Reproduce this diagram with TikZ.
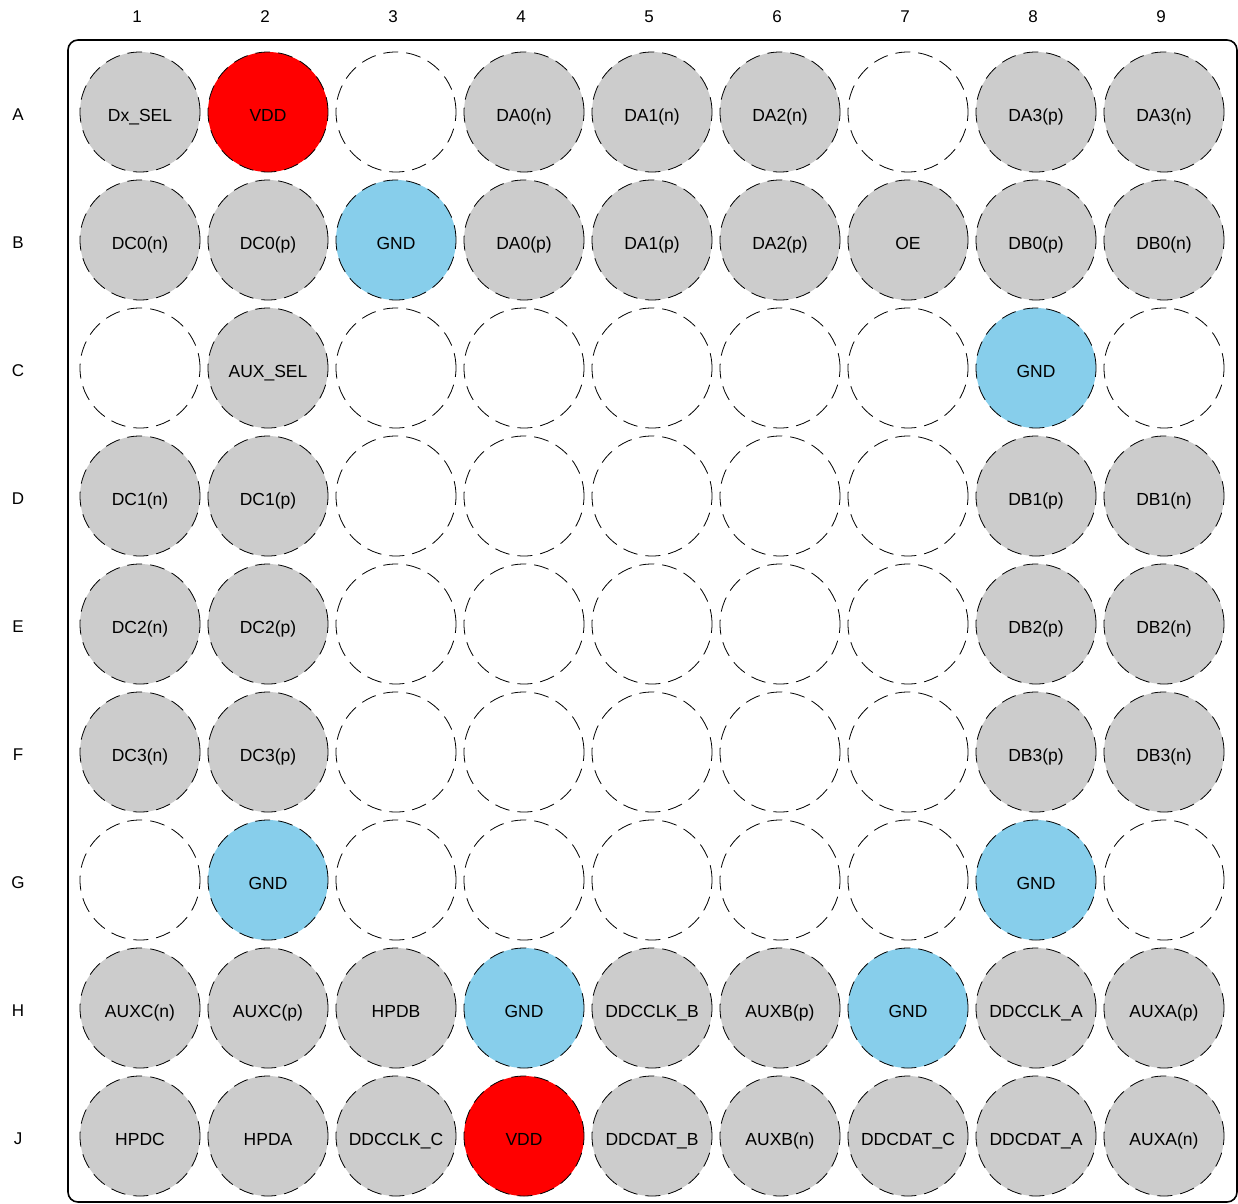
\documentclass[tikz,border=0pt]{standalone}
\usepackage{fontspec}
\setmainfont{Liberation Sans}
\definecolor{pingray}{HTML}{CCCCCC}
\definecolor{gndblue}{HTML}{87CEEB}
\definecolor{vddred}{HTML}{FF0000}
\tikzset{
  ballpad/.style={circle, draw, line width=0.8pt, dash pattern=on 15pt off 8pt,
    minimum size=120pt, inner sep=0pt, text height=18pt, text depth=0pt,
    font=\fontsize{17.5}{20}\selectfont},
  nc/.style={ballpad},
  sig/.style={ballpad, fill=pingray},
  gnd/.style={ballpad, fill=gndblue},
  vdd/.style={ballpad, fill=vddred},
  axislabel/.style={font=\fontsize{17}{20}\selectfont}
}
\begin{document}
\begin{tikzpicture}[x=1pt,y=-1pt]
\useasboundingbox (0,0) rectangle (1238,1203);
\draw[line width=1.6pt, rounded corners=10pt] (68,40) rectangle (1237,1202);
% column and row labels
\foreach \c in {1,...,9}
  \node[axislabel] (col\c) at ({137+128*(\c-1)},17) {\c};
\foreach \r [count=\i from 0] in {A,B,C,D,E,F,G,H,J}
  \node[axislabel] (row\r) at (18,{115+128*\i}) {\r};
% balls
\foreach \r/\i/\pins in {
  A/0/{sig/Dx\_SEL,vdd/VDD,nc/{},sig/DA0(n),sig/DA1(n),sig/DA2(n),nc/{},sig/DA3(p),sig/DA3(n)},
  B/1/{sig/DC0(n),sig/DC0(p),gnd/GND,sig/DA0(p),sig/DA1(p),sig/DA2(p),sig/OE,sig/DB0(p),sig/DB0(n)},
  C/2/{nc/{},sig/AUX\_SEL,nc/{},nc/{},nc/{},nc/{},nc/{},gnd/GND,nc/{}},
  D/3/{sig/DC1(n),sig/DC1(p),nc/{},nc/{},nc/{},nc/{},nc/{},sig/DB1(p),sig/DB1(n)},
  E/4/{sig/DC2(n),sig/DC2(p),nc/{},nc/{},nc/{},nc/{},nc/{},sig/DB2(p),sig/DB2(n)},
  F/5/{sig/DC3(n),sig/DC3(p),nc/{},nc/{},nc/{},nc/{},nc/{},sig/DB3(p),sig/DB3(n)},
  G/6/{nc/{},gnd/GND,nc/{},nc/{},nc/{},nc/{},nc/{},gnd/GND,nc/{}},
  H/7/{sig/AUXC(n),sig/AUXC(p),sig/HPDB,gnd/GND,sig/DDCCLK\_B,sig/AUXB(p),gnd/GND,sig/DDCCLK\_A,sig/AUXA(p)},
  J/8/{sig/HPDC,sig/HPDA,sig/DDCCLK\_C,vdd/VDD,sig/DDCDAT\_B,sig/AUXB(n),sig/DDCDAT\_C,sig/DDCDAT\_A,sig/AUXA(n)}}
  \foreach \kind/\txt [count=\c] in \pins
    \node[\kind] (\r\c) at ({140+128*(\c-1)},{112+128*\i}) {\txt};
\end{tikzpicture}
\end{document}
